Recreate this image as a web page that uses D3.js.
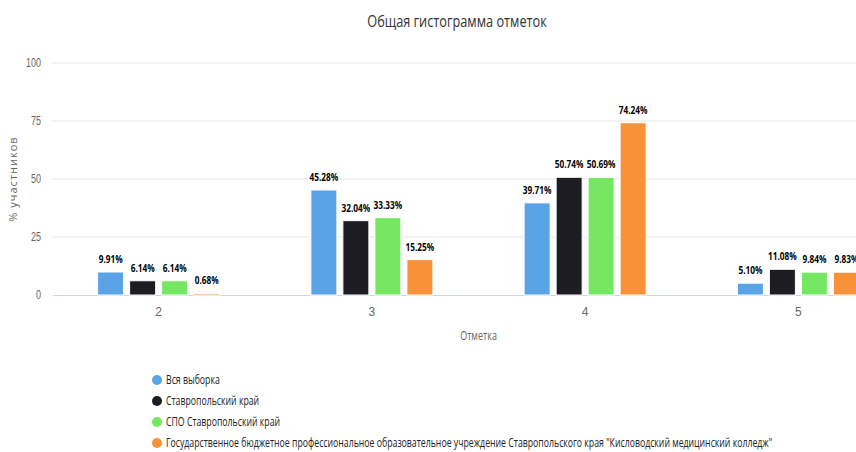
<!DOCTYPE html>
<html>
<head>
<meta charset="utf-8">
<script src="https://cdn.jsdelivr.net/npm/d3@7"></script>
<style>
  body { margin: 0; background: #fff; }
  svg { display: block; font-family: "Open Sans", sans-serif; }
</style>
</head>
<body>
<svg id="chart"></svg>
<script>
const categories = ["2", "3", "4", "5"];
const seriesNames = [
  "Вся выборка",
  "Ставропольский край",
  "СПО Ставропольский край",
  "Государственное бюджетное профессиональное образовательное учреждение Ставропольского края \"Кисловодский медицинский колледж\""
];
const seriesColors = ["#5ba3e7", "#1c1c22", "#76e762", "#f8923a"];
const allSample = [9.91, 45.28, 39.71, 5.10];
const stavropol = [6.14, 32.04, 50.74, 11.08];
const spoStavropol = [6.14, 33.33, 50.69, 9.84];
const college = [0.68, 15.25, 74.24, 9.83];
const yTicks = [0, 25, 50, 75, 100];

const seriesValues = [allSample, stavropol, spoStavropol, college];

const fullWidth = 856;
const fullHeight = 452;
const margin = {top: 63, left: 52};
const plotRight = 905;
const plotBottom = 295;
const k = 0.75; // text looks horizontally squeezed

const svg = d3.select('#chart')
  .attr('width', fullWidth)
  .attr('height', fullHeight);

// put text at (x, y) and squeeze it sideways
function squeezed(sel, x, y, kk) {
  return sel.attr('transform', 'translate(' + x + ',' + y + ') scale(' + (kk || k) + ',1)');
}

const x0 = d3.scaleBand().domain(categories).range([margin.left, plotRight]);
const x1 = d3.scaleBand().domain(d3.range(seriesNames.length))
  .range([0, 122]).paddingInner(0.1875);
const groupOffset = (x0.bandwidth() - 122) / 2;
const y = d3.scaleLinear().domain([0, 100]).range([plotBottom, margin.top]);

// grid
svg.append('g')
  .selectAll('line')
  .data(yTicks.slice(1))
  .enter().append('line')
    .attr('x1', margin.left)
    .attr('x2', plotRight)
    .attr('y1', d => y(d))
    .attr('y2', d => y(d))
    .attr('stroke', '#e6e6e6');

// y axis labels
const yAxis = svg.append('g')
  .attr('transform', 'translate(' + margin.left + ',0)')
  .call(d3.axisLeft(y).tickValues(yTicks).tickSize(0).tickPadding(10));
yAxis.select('.domain').remove();
yAxis.selectAll('text')
  .attr('fill', '#666')
  .style('font-size', '12px')
  .attr('x', 0)
  .attr('transform', 'translate(-11,0) scale(' + k + ',1)');

// x axis
const xAxis = svg.append('g')
  .attr('transform', 'translate(0,' + plotBottom + ')')
  .call(d3.axisBottom(x0).tickSize(0).tickPadding(12));
xAxis.select('.domain').attr('stroke', '#ccd6eb');
xAxis.selectAll('text')
  .attr('fill', '#666')
  .style('font-size', '12px');

// bars
const groups = svg.append('g')
  .selectAll('g')
  .data(seriesValues)
  .enter().append('g')
    .attr('fill', (d, i) => seriesColors[i]);

groups.each(function(vals, si) {
  const g = d3.select(this);
  g.selectAll('rect')
    .data(vals)
    .enter().append('rect')
      .attr('x', (d, ci) => x0(categories[ci]) + groupOffset + x1(si))
      .attr('y', d => y(d))
      .attr('width', x1.bandwidth())
      .attr('height', d => plotBottom - y(d))
      .attr('stroke', '#fff')
      .attr('stroke-width', 1);
  g.selectAll('text')
    .data(vals)
    .enter().append('text')
      .attr('text-anchor', 'middle')
      .attr('fill', '#000')
      .style('font-size', '11px')
      .style('font-weight', 'bold')
      .each(function(d, ci) {
        squeezed(d3.select(this),
          x0(categories[ci]) + groupOffset + x1(si) + x1.bandwidth() / 2,
          y(d) - 9);
      })
      .text(d => d.toFixed(2) + '%');
});

// title
svg.append('text')
  .attr('text-anchor', 'middle')
  .attr('fill', '#333')
  .style('font-size', '17px')
  .call(squeezed, 457, 27)
  .text('Общая гистограмма отметок');

// axis titles
svg.append('text')
  .attr('text-anchor', 'middle')
  .attr('fill', '#666')
  .style('font-size', '12px')
  .call(squeezed, (margin.left + plotRight) / 2, 340)
  .text('Отметка');

svg.append('text')
  .attr('text-anchor', 'middle')
  .attr('fill', '#666')
  .style('font-size', '11px')
  .style('letter-spacing', '1px')
  .attr('transform', 'translate(17,' + (margin.top + plotBottom) / 2 + ') rotate(-90)')
  .text('% участников');

// legend
const legend = svg.append('g')
  .selectAll('g')
  .data(seriesNames)
  .enter().append('g')
    .attr('transform', (d, i) => 'translate(157,' + (380 + i * 21) + ')');

legend.append('circle')
  .attr('r', 5)
  .attr('fill', (d, i) => seriesColors[i]);

legend.append('text')
  .attr('fill', '#222')
  .style('font-size', '12px')
  .call(squeezed, 9, 4, 0.728)
  .text(d => d);
</script>
</body>
</html>
